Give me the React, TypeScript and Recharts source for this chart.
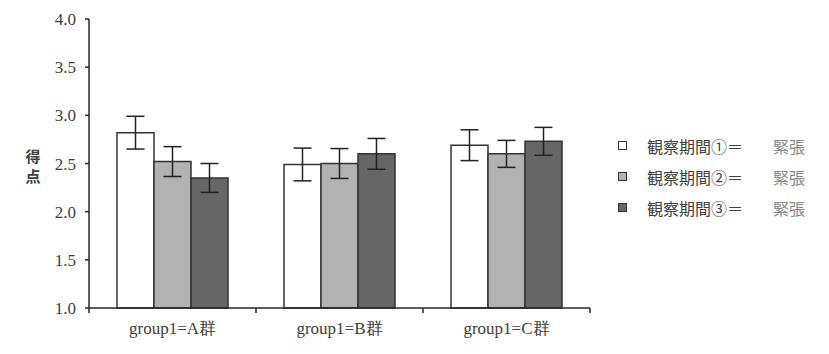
import React from "react";
import { BarChart, Bar, XAxis, YAxis, ErrorBar } from "recharts";

const categories = ["group1=A群", "group1=B群", "group1=C群"];
const period1 = [2.82, 2.49, 2.69];
const period2 = [2.52, 2.5, 2.6];
const period3 = [2.35, 2.6, 2.73];
const err1 = [0.17, 0.17, 0.16];
const err2 = [0.155, 0.155, 0.14];
const err3 = [0.15, 0.16, 0.145];
const yTicks = [1.0, 1.5, 2.0, 2.5, 3.0, 3.5, 4.0];

const seriesNames = ["観察期間①＝", "観察期間②＝", "観察期間③＝"];
const seriesLevel = "緊張";
const seriesColors = ["#ffffff", "#b2b2b2", "#666666"];

const W = 829;
const H = 354;
const M_TOP = 19;
const M_RIGHT = 239;
const Y_W = 89;
const X_H = 46;
const PLOT_W = W - M_RIGHT - Y_W;
const AXIS_Y = H - X_H;

const data = categories.map((c, i) => ({
  name: c,
  p1: period1[i],
  p2: period2[i],
  p3: period3[i],
  e1: err1[i],
  e2: err2[i],
  e3: err3[i],
}));

const axisColor = "#262626";
const serif = "Liberation Serif, DejaVu Serif, serif";
const sans = "Noto Sans CJK JP, Noto Sans, sans-serif";

function XTick(props: any) {
  const { x, payload, index } = props;
  const band = PLOT_W / categories.length;
  return (
    <g>
      <line x1={x - band / 2} x2={x - band / 2} y1={AXIS_Y} y2={AXIS_Y + 5} stroke={axisColor} strokeWidth={1.5} />
      {index === categories.length - 1 && (
        <line x1={x + band / 2} x2={x + band / 2} y1={AXIS_Y} y2={AXIS_Y + 5} stroke={axisColor} strokeWidth={1.5} />
      )}
      <text x={x} y={AXIS_Y + 26} textAnchor="middle" style={{ fontFamily: serif }} fontSize={17} fill="#404040">
        {payload.value}
      </text>
    </g>
  );
}

function YTick(props: any) {
  const { x, y, payload } = props;
  return (
    <text x={x} y={y + 6} textAnchor="end" style={{ fontFamily: serif }} fontSize={17} fill="#404040">
      {payload.value.toFixed(1)}
    </text>
  );
}

function YLabel(props: any) {
  const vb = props.viewBox || { y: M_TOP, height: AXIS_Y - M_TOP };
  const cy = vb.y + vb.height / 2;
  return (
    <g style={{ fontFamily: sans }} fontSize={15} fontWeight="bold" fill="#404040">
      <text x={33} y={cy - 2} textAnchor="middle">得</text>
      <text x={33} y={cy + 18} textAnchor="middle">点</text>
    </g>
  );
}

export default function App() {
  return (
    <div style={{ position: "absolute", left: 0, top: 0, width: W, height: H, background: "#fff" }}>
      <BarChart
        width={W}
        height={H}
        data={data}
        barGap={0}
        margin={{ top: M_TOP, right: M_RIGHT, bottom: 0, left: 0 }}
      >
        <XAxis
          dataKey="name"
          height={X_H}
          tickLine={false}
          tickSize={5}
          axisLine={{ stroke: axisColor, strokeWidth: 1.5 }}
          tick={<XTick />}
          interval={0}
        />
        <YAxis
          width={Y_W}
          domain={[1, 4]}
          ticks={yTicks}
          tickSize={4}
          tickMargin={9}
          axisLine={{ stroke: axisColor, strokeWidth: 1.5 }}
          tickLine={{ stroke: axisColor, strokeWidth: 1.5 }}
          tick={<YTick />}
          label={{ content: <YLabel /> }}
        />
        <Bar dataKey="p1" fill={seriesColors[0]} stroke="#333" strokeWidth={1.5} barSize={37} isAnimationActive={false}>
          <ErrorBar dataKey="e1" width={9} stroke="#222" strokeWidth={1.5} />
        </Bar>
        <Bar dataKey="p2" fill={seriesColors[1]} stroke="#333" strokeWidth={1.5} barSize={37} isAnimationActive={false}>
          <ErrorBar dataKey="e2" width={9} stroke="#222" strokeWidth={1.5} />
        </Bar>
        <Bar dataKey="p3" fill={seriesColors[2]} stroke="#333" strokeWidth={1.5} barSize={37} isAnimationActive={false}>
          <ErrorBar dataKey="e3" width={9} stroke="#222" strokeWidth={1.5} />
        </Bar>
      </BarChart>
      <div style={{ position: "absolute", left: 618, top: 130, fontFamily: sans, fontSize: 16 }}>
        {seriesNames.map((n, i) => (
          <div key={n} style={{ display: "flex", alignItems: "center", height: 31 }}>
            <span
              style={{
                display: "inline-block",
                width: 7,
                height: 7,
                border: "1.5px solid #333",
                background: seriesColors[i],
                marginRight: 20,
              }}
            />
            <span style={{ color: "#404040", width: 126 }}>{n}</span>
            <span style={{ color: "#888" }}>{seriesLevel}</span>
          </div>
        ))}
      </div>
    </div>
  );
}
